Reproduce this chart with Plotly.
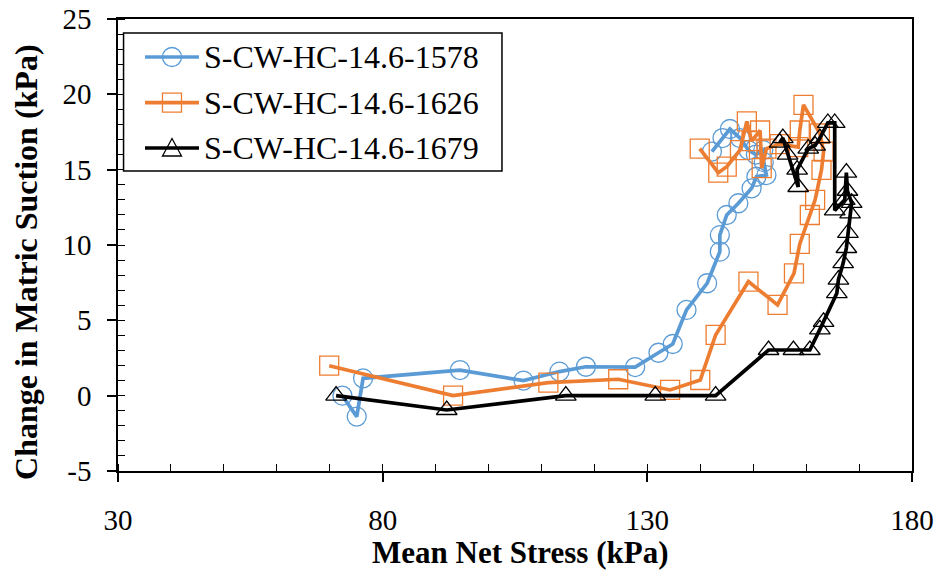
import plotly.graph_objects as go

# Series S-CW-HC-14.6-1578
x_1578 = [72.4, 75.1, 76.3, 94.6, 106.6, 113.4, 118.4, 127.7, 132.1, 134.8, 137.4, 141.3, 143.7, 143.7,
          145.0, 147.2, 149.7, 150.6, 152.5, 152.0, 151.9, 150.5, 149.1, 147.5, 145.6, 144.2, 142.2]
y_1578 = [0.0, -1.39, 1.15, 1.70, 1.00, 1.60, 1.92, 1.90, 2.85, 3.43, 5.69, 7.46, 9.56, 10.66,
          11.99, 12.77, 13.76, 14.53, 14.64, 15.50, 16.30, 16.00, 16.30, 17.10, 17.70, 17.10, 16.20]

# Series S-CW-HC-14.6-1626
x_1626 = [69.9, 93.3, 111.3, 124.5, 134.3, 140.0, 142.9, 149.1, 154.6, 157.7, 158.8, 160.7, 161.7,
          162.9, 163.3, 162.6, 159.5, 158.8, 158.5, 155.0, 152.5, 151.6, 151.3, 149.7, 148.8, 147.5,
          145.0, 143.4, 139.9]
y_1626 = [1.99, 0.00, 0.86, 1.09, 0.38, 1.04, 4.03, 7.57, 6.02, 8.12, 10.07, 11.99, 13.00,
          14.98, 16.20, 17.40, 19.30, 17.60, 16.50, 16.70, 16.40, 15.10, 17.60, 16.90, 18.20, 16.30,
          15.20, 14.80, 16.40]

# Series S-CW-HC-14.6-1679
x_1679 = [71.2, 92.1, 114.6, 131.5, 142.9, 152.9, 157.6, 160.7, 162.6, 163.3, 165.8, 166.1, 167.0,
          167.6, 167.9, 168.3, 168.6, 167.8, 167.6, 167.3, 165.4, 165.4, 164.1, 162.6, 161.7, 160.4,
          158.3, 158.5, 156.5, 155.6, 155.0]
y_1679 = [0.0, -0.95, 0.0, 0.0, 0.0, 3.03, 3.03, 3.03, 4.40, 4.90, 6.80, 7.70, 8.80,
          9.80, 10.80, 12.10, 12.80, 13.60, 14.80, 13.00, 12.30, 18.10, 18.10, 17.10, 16.60, 16.40,
          15.00, 13.85, 16.00, 17.10, 16.80]

x_ticks = [30, 80, 130, 180]
y_ticks = [-5, 0, 5, 10, 15, 20, 25]
y_ticklabels = ["-5", "0", "5", "10", "15", "20", "25"]

names = ["S-CW-HC-14.6-1578", "S-CW-HC-14.6-1626", "S-CW-HC-14.6-1679"]
colors = ["#5B9BD5", "#ED7D31", "#000000"]
symbols = ["circle-open", "square-open", "triangle-up-open"]
xs = [x_1578, x_1626, x_1679]
ys = [y_1578, y_1626, y_1679]
sizes = [19, 19, 18]

FONT = "Liberation Serif"

fig = go.Figure()
for x, y, n, c, s, sz in zip(xs, ys, names, colors, symbols, sizes):
    fig.add_trace(go.Scatter(
        x=x, y=y, name=n, mode="lines+markers", showlegend=False,
        line=dict(color=c, width=3.7),
        marker=dict(symbol=s, size=sz, color=c, line=dict(width=1.3, color=c)),
    ))

# ---- custom legend (box, line samples, symbols, text) in paper coordinates ----
shapes = [dict(type="rect", xref="paper", yref="paper", x0=0.007, x1=0.4836, y0=0.6637, y1=0.969,
               line=dict(color="black", width=1.5), fillcolor="white", layer="above")]
annotations = []
row_y = [0.9159, 0.815, 0.7146]
for ry, n, c, s in zip(row_y, names, colors, symbols):
    shapes.append(dict(type="line", xref="paper", yref="paper", x0=0.034, x1=0.102, y0=ry, y1=ry,
                       line=dict(color=c, width=3.7), layer="above"))
    common = dict(xref="paper", yref="paper", xsizemode="pixel", ysizemode="pixel",
                  xanchor=0.068, yanchor=ry, line=dict(color=c, width=1.3),
                  fillcolor="rgba(0,0,0,0)", layer="above")
    if s.startswith("circle"):
        shapes.append(dict(type="circle", x0=-9.5, x1=9.5, y0=-9.5, y1=9.5, **common))
    elif s.startswith("square"):
        shapes.append(dict(type="rect", x0=-9.5, x1=9.5, y0=-9.5, y1=9.5, **common))
    else:
        shapes.append(dict(type="path", path="M-9.5,-8 L9.5,-8 L0,9.5 Z", **common))
    annotations.append(dict(text=n, xref="paper", yref="paper", x=0.1058, y=ry,
                            xanchor="left", yanchor="middle", showarrow=False,
                            font=dict(family=FONT, size=32, color="black")))

# axis titles
annotations.append(dict(text="<b>Mean Net Stress (kPa)</b>", xref="paper", yref="paper",
                        x=0.506, y=-0.1814, xanchor="center", yanchor="middle", showarrow=False,
                        font=dict(family=FONT, size=31, color="black")))
annotations.append(dict(text="<b>Change in Matric Suction (kPa)</b>", xref="paper", yref="paper",
                        x=-0.1159, y=0.4624, xanchor="center", yanchor="middle", showarrow=False,
                        textangle=-90, font=dict(family=FONT, size=32, color="black")))

fig.update_layout(
    width=941, height=571,
    margin=dict(l=118, r=29, t=19, b=100),
    paper_bgcolor="white", plot_bgcolor="white",
    font=dict(family=FONT, color="black", size=28),
    showlegend=False,
    shapes=shapes,
    annotations=annotations,
    xaxis=dict(
        range=[30, 180], tickvals=x_ticks,
        showline=True, linecolor="black", linewidth=1.5, mirror=True,
        ticks="outside", ticklen=9, tickwidth=1.5, tickcolor="black",
        minor=dict(dtick=10, tick0=30, ticks="inside", ticklen=7, tickwidth=1.2, tickcolor="black"),
        showgrid=False, zeroline=False, automargin=False,
        tickfont=dict(family=FONT, size=29),
        ticklabelstandoff=13, ticklabeloverflow="allow",
    ),
    yaxis=dict(
        range=[-5, 25], tickvals=y_ticks, ticktext=y_ticklabels,
        showline=True, linecolor="black", linewidth=1.5, mirror=True,
        ticks="outside", ticklen=9, tickwidth=1.5, tickcolor="black",
        minor=dict(dtick=1, ticks="inside", ticklen=7, tickwidth=1.2, tickcolor="black"),
        showgrid=False, zeroline=False, automargin=False,
        tickfont=dict(family=FONT, size=29),
        ticklabelstandoff=10, ticklabeloverflow="allow",
    ),
)

fig.write_html("out.html", config={"displayModeBar": False},
               post_script="document.body.style.margin='0';")
